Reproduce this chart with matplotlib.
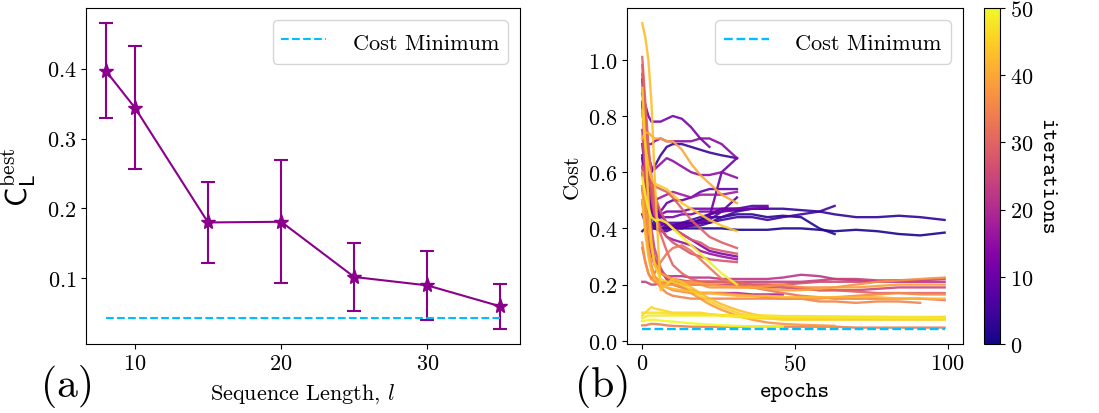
import matplotlib
matplotlib.use("Agg")
import matplotlib.pyplot as plt
import numpy as np

plt.rcParams['font.family'] = 'serif'
plt.rcParams['font.serif'] = ['cmr10']
plt.rcParams['mathtext.fontset'] = 'cm'
plt.rcParams['axes.formatter.use_mathtext'] = True
plt.rcParams['axes.unicode_minus'] = False

# (a) best cost vs sequence length
seq_len = [8, 10, 15, 20, 25, 30, 35]
best_cost = [0.397, 0.344, 0.180, 0.181, 0.102, 0.090, 0.060]
best_err = [0.068, 0.088, 0.058, 0.088, 0.049, 0.049, 0.032]
cost_min = 0.043

# (b) training runs: cost sampled at these epochs, each run stops at its own length
epoch_grid = [0, 1, 2, 3, 4, 6, 8, 10, 13, 16, 19, 22, 26, 31, 36, 41, 46, 52, 58, 63, 70, 77, 84, 91, 99]
run_iterations = [1, 3, 2, 5, 6, 7, 8, 9, 10, 4,
                  12, 14, 15, 17, 13, 16, 19, 11, 12,
                  22, 24, 26, 28, 27, 30, 25, 29,
                  33, 35, 37, 36, 39, 34, 38, 40,
                  43, 44, 49, 46, 48, 50, 45, 42, 47]
run_costs = [
    [0.39, 0.40, 0.40, 0.40, 0.40, 0.40, 0.40, 0.40, 0.40, 0.40, 0.40, 0.40, 0.40, 0.395, 0.395, 0.395, 0.40, 0.40, 0.395, 0.39, 0.395, 0.39, 0.38, 0.375, 0.385],
    [0.93, 0.80, 0.66, 0.55, 0.48, 0.43, 0.41, 0.41, 0.41, 0.42, 0.43, 0.45, 0.46, 0.465, 0.47, 0.47, 0.47, 0.465, 0.46, 0.45, 0.44, 0.44, 0.445, 0.44, 0.43],
    [0.66, 0.58, 0.50, 0.45, 0.42, 0.40, 0.40, 0.41, 0.42, 0.42, 0.43, 0.44, 0.44, 0.45, 0.45, 0.44, 0.445, 0.44, 0.40, 0.38],
    [0.60, 0.52, 0.46, 0.42, 0.40, 0.39, 0.39, 0.40, 0.40, 0.41, 0.41, 0.42, 0.43, 0.44, 0.44, 0.43, 0.44, 0.45, 0.46, 0.48],
    [0.55, 0.48, 0.44, 0.42, 0.41, 0.40, 0.40, 0.40, 0.41, 0.41, 0.42, 0.42, 0.44, 0.46, 0.47, 0.47],
    [0.50, 0.45, 0.42, 0.41, 0.41, 0.41, 0.42, 0.42, 0.42, 0.43, 0.44, 0.45, 0.47, 0.47, 0.48, 0.48],
    [0.45, 0.42, 0.41, 0.40, 0.40, 0.40, 0.41, 0.41, 0.41, 0.42, 0.42, 0.43, 0.46, 0.51],
    [0.62, 0.55, 0.50, 0.47, 0.46, 0.46, 0.49, 0.50, 0.50, 0.51, 0.53, 0.54, 0.54, 0.54],
    [0.70, 0.60, 0.52, 0.47, 0.44, 0.42, 0.41, 0.41, 0.41, 0.41, 0.42, 0.44, 0.60, 0.65],
    [0.85, 0.75, 0.66, 0.60, 0.62, 0.66, 0.69, 0.70, 0.70, 0.69, 0.68, 0.67, 0.66, 0.65],
    [0.88, 0.84, 0.80, 0.78, 0.78, 0.78, 0.79, 0.80, 0.79, 0.76, 0.72, 0.69],
    [0.75, 0.72, 0.70, 0.70, 0.71, 0.72, 0.71, 0.71, 0.71, 0.71, 0.72, 0.72, 0.70, 0.65],
    [0.82, 0.72, 0.66, 0.62, 0.61, 0.63, 0.65, 0.64, 0.62, 0.60, 0.59, 0.59, 0.60, 0.58],
    [0.60, 0.55, 0.52, 0.50, 0.50, 0.51, 0.52, 0.53, 0.52, 0.51, 0.52, 0.52, 0.52, 0.53],
    [0.90, 0.75, 0.62, 0.55, 0.50, 0.45, 0.42, 0.40, 0.38, 0.36, 0.34, 0.32, 0.31, 0.30],
    [0.85, 0.70, 0.58, 0.50, 0.45, 0.40, 0.37, 0.36, 0.35, 0.34, 0.32, 0.31, 0.30, 0.29],
    [0.50, 0.42, 0.36, 0.32, 0.29, 0.25, 0.22, 0.20, 0.19, 0.18, 0.17, 0.17, 0.17, 0.17, 0.165, 0.165, 0.165],
    [0.55, 0.50, 0.47, 0.45, 0.44, 0.45, 0.46, 0.46, 0.46, 0.47, 0.47, 0.47, 0.47, 0.47],
    [0.65, 0.55, 0.49, 0.46, 0.45, 0.44, 0.44, 0.44, 0.45, 0.45, 0.46, 0.46, 0.46, 0.47, 0.47, 0.475],
    [0.55, 0.45, 0.37, 0.31, 0.27, 0.24, 0.23, 0.23, 0.23, 0.225, 0.225, 0.225, 0.22, 0.22, 0.22, 0.22, 0.225, 0.235, 0.23, 0.22, 0.215, 0.21, 0.21, 0.21, 0.21],
    [0.21, 0.21, 0.205, 0.20, 0.20, 0.205, 0.21, 0.21, 0.21, 0.21, 0.21, 0.21, 0.21, 0.21, 0.21, 0.21, 0.21, 0.21, 0.215, 0.22, 0.22, 0.215, 0.215, 0.215, 0.22],
    [0.75, 0.58, 0.45, 0.36, 0.30, 0.25, 0.23, 0.22, 0.215, 0.21, 0.21, 0.21, 0.21, 0.205, 0.20, 0.20, 0.20, 0.205, 0.21, 0.21, 0.21, 0.21, 0.215, 0.215],
    [0.98, 0.82, 0.68, 0.58, 0.52, 0.46, 0.42, 0.40, 0.38, 0.36, 0.35, 0.33, 0.32, 0.31],
    [0.95, 0.78, 0.62, 0.52, 0.45, 0.40, 0.37, 0.35, 0.33, 0.31, 0.30, 0.29, 0.285, 0.28],
    [1.01, 0.85, 0.70, 0.58, 0.48, 0.38, 0.32, 0.27, 0.24, 0.22, 0.21, 0.21, 0.21, 0.21, 0.20, 0.20, 0.19, 0.19, 0.18, 0.18, 0.175, 0.17, 0.17, 0.17, 0.17],
    [0.85, 0.65, 0.50, 0.40, 0.33, 0.26, 0.22, 0.21, 0.20, 0.20, 0.20, 0.20, 0.20, 0.20, 0.19, 0.19, 0.19, 0.185, 0.18, 0.18, 0.18, 0.185, 0.19, 0.19, 0.19],
    [0.62, 0.58, 0.56, 0.55, 0.55, 0.54, 0.53, 0.51, 0.47, 0.43, 0.40, 0.37, 0.35, 0.33],
    [0.33, 0.28, 0.24, 0.22, 0.24, 0.28, 0.31, 0.33, 0.34, 0.32, 0.29, 0.26, 0.22, 0.20, 0.19, 0.18, 0.17, 0.16, 0.155, 0.15, 0.15, 0.15, 0.15, 0.15, 0.145],
    [0.50, 0.40, 0.32, 0.26, 0.22, 0.19, 0.17, 0.16, 0.155, 0.15, 0.15, 0.15, 0.15, 0.15, 0.15, 0.15, 0.15, 0.15, 0.14, 0.14, 0.135, 0.14, 0.14, 0.135],
    [0.35, 0.28, 0.24, 0.22, 0.21, 0.20, 0.20, 0.20, 0.20, 0.20, 0.20, 0.19, 0.19, 0.19, 0.19, 0.195, 0.20, 0.19, 0.19, 0.19, 0.20, 0.21, 0.215, 0.22, 0.225],
    [0.55, 0.42, 0.33, 0.27, 0.23, 0.20, 0.19, 0.18, 0.175, 0.17, 0.17, 0.17, 0.17, 0.165, 0.16, 0.155, 0.15, 0.15, 0.15, 0.155, 0.16, 0.165, 0.17, 0.165, 0.165],
    [0.60, 0.50, 0.40, 0.33, 0.28, 0.24, 0.23, 0.22, 0.21, 0.21, 0.205, 0.20, 0.195, 0.19, 0.19, 0.185, 0.18, 0.18, 0.185, 0.19, 0.19, 0.195, 0.20, 0.20, 0.20],
    [0.055, 0.055, 0.058, 0.06, 0.06, 0.058, 0.055, 0.053, 0.052, 0.05, 0.05, 0.05, 0.05, 0.05, 0.05, 0.05, 0.05, 0.05, 0.05, 0.05, 0.047, 0.047, 0.047, 0.047, 0.047],
    [0.55, 0.42, 0.32, 0.26, 0.23, 0.21, 0.20, 0.20, 0.19, 0.17, 0.15, 0.13, 0.11, 0.09, 0.075, 0.065, 0.06, 0.057, 0.055, 0.053],
    [0.72, 0.74, 0.74, 0.73, 0.72, 0.72, 0.71, 0.71, 0.68, 0.63, 0.59, 0.56, 0.52, 0.49],
    [1.13, 1.08, 1.00, 0.85, 0.60, 0.18, 0.20, 0.22, 0.21, 0.19, 0.17, 0.15, 0.13, 0.11, 0.095, 0.085, 0.08, 0.08, 0.078, 0.08, 0.08, 0.078, 0.078, 0.08, 0.08],
    [0.82, 0.70, 0.62, 0.58, 0.56, 0.55, 0.54, 0.52, 0.49, 0.47, 0.45, 0.43, 0.41, 0.39],
    [0.58, 0.52, 0.47, 0.44, 0.43, 0.43, 0.42, 0.40, 0.37, 0.34, 0.31, 0.28, 0.24, 0.20],
    [0.09, 0.10, 0.11, 0.12, 0.115, 0.11, 0.105, 0.10, 0.10, 0.10, 0.10, 0.095, 0.09, 0.085, 0.08, 0.08, 0.078, 0.078, 0.08, 0.08, 0.082, 0.082, 0.08, 0.08, 0.085],
    [0.08, 0.085, 0.09, 0.09, 0.09, 0.09, 0.09, 0.09, 0.09, 0.09, 0.09, 0.09, 0.09, 0.088, 0.085, 0.085, 0.085, 0.085, 0.085, 0.083, 0.083, 0.08, 0.08, 0.08, 0.08],
    [0.07, 0.072, 0.075, 0.075, 0.075, 0.072, 0.07, 0.068, 0.065, 0.062, 0.06, 0.058, 0.055, 0.053, 0.05, 0.05, 0.05],
    [0.90, 0.70, 0.50, 0.35, 0.27, 0.22, 0.21, 0.21, 0.20, 0.18, 0.16, 0.14, 0.12, 0.10, 0.085, 0.08, 0.075, 0.075, 0.075, 0.075, 0.075, 0.075, 0.075, 0.075, 0.075],
    [0.50, 0.38, 0.30, 0.25, 0.22, 0.20, 0.19, 0.185, 0.18, 0.175, 0.17, 0.17, 0.165, 0.16, 0.16, 0.16, 0.155, 0.155, 0.155, 0.155, 0.155, 0.155, 0.15, 0.15, 0.15],
    [0.10, 0.10, 0.10, 0.10, 0.10, 0.10, 0.098, 0.096, 0.095, 0.095, 0.094, 0.093, 0.092, 0.09, 0.09, 0.09, 0.088, 0.088, 0.087, 0.087, 0.086, 0.086, 0.085, 0.085, 0.085],
]
max_epoch = 99

fig = plt.figure(figsize=(10.99, 4.14), dpi=100)
ax1 = fig.add_axes([0.0783, 0.1667, 0.3949, 0.8116])
ax2 = fig.add_axes([0.5705, 0.1667, 0.3057, 0.8116])
cax = fig.add_axes([0.8954, 0.1667, 0.0146, 0.8116])

fs = 16
min_color = '#00bfff'
leg_kw = dict(loc='upper right', fontsize=fs, handleheight=1.4, handletextpad=1.2,
              borderaxespad=0.55)

# left panel
ax1.errorbar(seq_len, best_cost, yerr=best_err, color='darkmagenta', marker='*',
             markersize=11, linewidth=1.5, elinewidth=1.5, capsize=5, capthick=1.5)
ax1.plot([seq_len[0], seq_len[-1]], [cost_min, cost_min], '--', color=min_color,
         linewidth=1.5, label='Cost Minimum')
ax1.set_xticks([10, 20, 30])
ax1.set_yticks([0.1, 0.2, 0.3, 0.4])
ax1.tick_params(labelsize=fs)
ax1.set_xlabel(r'Sequence Length, $l$', fontsize=fs, labelpad=6)
ax1.set_ylabel(r'$\mathsf{C}_{\mathsf{L}}^{\mathrm{best}}$', fontsize=22, labelpad=6)
ax1.legend(**leg_kw)

# right panel
cmap = plt.get_cmap('plasma')
norm = matplotlib.colors.Normalize(vmin=0, vmax=50)
order = np.argsort(run_iterations, kind='stable')
for i in order:
    costs = run_costs[i]
    ax2.plot(epoch_grid[:len(costs)], costs, color=cmap(norm(run_iterations[i])),
             linewidth=1.7, alpha=0.9)
ax2.plot([0, max_epoch], [cost_min, cost_min], '--', color=min_color,
         linewidth=1.7, label='Cost Minimum')
ax2.set_xlim(-5, 105)
ax2.set_xticks([0, 50, 100])
ax2.set_yticks([0.0, 0.2, 0.4, 0.6, 0.8, 1.0])
ax2.tick_params(labelsize=fs)
ax2.set_xlabel('epochs', fontsize=fs, family='cmtt10', labelpad=6)
ax2.set_ylabel('Cost', fontsize=fs)
ax2.legend(**leg_kw)

sm = matplotlib.cm.ScalarMappable(norm=norm, cmap=cmap)
cb = fig.colorbar(sm, cax=cax)
cb.set_ticks([0, 10, 20, 30, 40, 50])
cb.ax.tick_params(labelsize=fs)
cb.set_label('iterations', fontsize=fs, family='cmtt10', rotation=270, labelpad=16)

fig.text(0.037, 0.04, '(a)', fontsize=30, va='baseline')
fig.text(0.523, 0.04, '(b)', fontsize=30, va='baseline')

fig.savefig('out.png', dpi=100)
